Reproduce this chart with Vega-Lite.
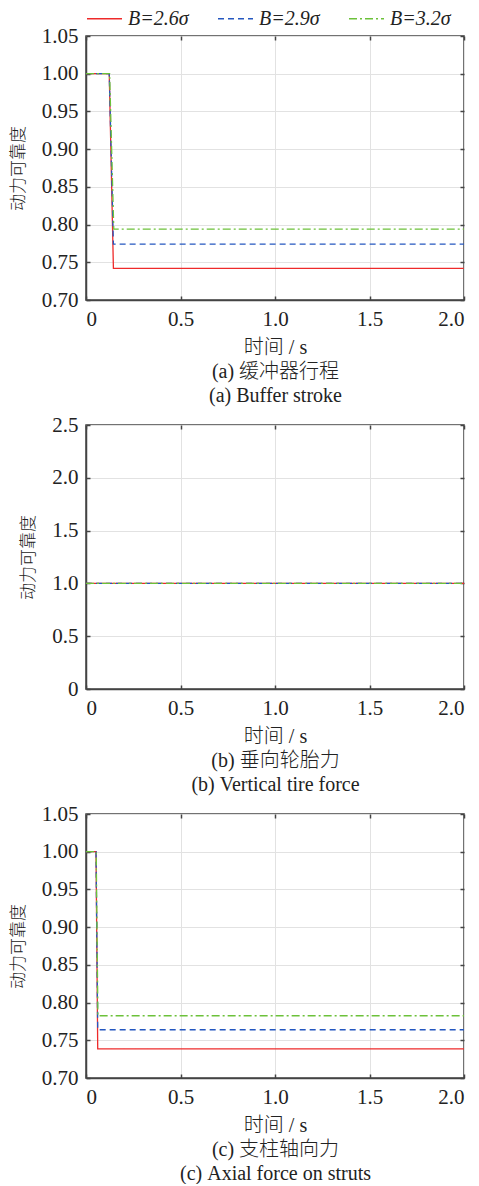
{
  "$schema": "https://vega.github.io/schema/vega-lite/v6.json",
  "padding": {"left": 8, "top": 0, "right": 12, "bottom": 0},
  "data": {"values": [
    {"p": "a", "s": "B=2.6σ", "t": 0, "r": 1},
    {"p": "a", "s": "B=2.6σ", "t": 0.123, "r": 1},
    {"p": "a", "s": "B=2.6σ", "t": 0.145, "r": 0.742},
    {"p": "a", "s": "B=2.6σ", "t": 2, "r": 0.742},
    {"p": "a", "s": "B=2.9σ", "t": 0, "r": 1},
    {"p": "a", "s": "B=2.9σ", "t": 0.123, "r": 1},
    {"p": "a", "s": "B=2.9σ", "t": 0.145, "r": 0.774},
    {"p": "a", "s": "B=2.9σ", "t": 2, "r": 0.774},
    {"p": "a", "s": "B=3.2σ", "t": 0, "r": 1},
    {"p": "a", "s": "B=3.2σ", "t": 0.125, "r": 1},
    {"p": "a", "s": "B=3.2σ", "t": 0.147, "r": 0.794},
    {"p": "a", "s": "B=3.2σ", "t": 2, "r": 0.794},
    {"p": "b", "s": "B=2.6σ", "t": 0, "r": 1},
    {"p": "b", "s": "B=2.6σ", "t": 2, "r": 1},
    {"p": "b", "s": "B=2.9σ", "t": 0, "r": 1},
    {"p": "b", "s": "B=2.9σ", "t": 2, "r": 1},
    {"p": "b", "s": "B=3.2σ", "t": 0, "r": 1},
    {"p": "b", "s": "B=3.2σ", "t": 2, "r": 1},
    {"p": "c", "s": "B=2.6σ", "t": 0, "r": 1},
    {"p": "c", "s": "B=2.6σ", "t": 0.053, "r": 1},
    {"p": "c", "s": "B=2.6σ", "t": 0.062, "r": 0.7385},
    {"p": "c", "s": "B=2.6σ", "t": 2, "r": 0.7385},
    {"p": "c", "s": "B=2.9σ", "t": 0, "r": 1},
    {"p": "c", "s": "B=2.9σ", "t": 0.053, "r": 1},
    {"p": "c", "s": "B=2.9σ", "t": 0.062, "r": 0.764},
    {"p": "c", "s": "B=2.9σ", "t": 2, "r": 0.764},
    {"p": "c", "s": "B=3.2σ", "t": 0, "r": 1},
    {"p": "c", "s": "B=3.2σ", "t": 0.054, "r": 1},
    {"p": "c", "s": "B=3.2σ", "t": 0.063, "r": 0.7825},
    {"p": "c", "s": "B=3.2σ", "t": 2, "r": 0.7825}
  ]},
  "spacing": 125,
  "bounds": "flush",
  "resolve": {"scale": {"x": "independent", "y": "independent", "color": "shared", "strokeDash": "shared"}},
  "vconcat": [
    {
      "width": 378, "height": 264,
      "transform": [{"filter": "datum.p == 'a'"}],
      "layer": [
        {
          "mark": {"type": "line", "strokeWidth": 1.3, "clip": true},
          "encoding": {
            "x": {"field": "t", "type": "quantitative", "scale": {"domain": [0, 2]},
                  "axis": {"values": [0, 0.5, 1, 1.5, 2], "labelExpr": "datum.value == 0 ? '0' : format(datum.value, '.1f')",
                           "title": ["时间 / s", "(a) 缓冲器行程", "(a) Buffer stroke"]}},
            "y": {"field": "r", "type": "quantitative", "scale": {"domain": [0.7, 1.05], "nice": false, "zero": false},
                  "axis": {"values": [0.7, 0.75, 0.8, 0.85, 0.9, 0.95, 1.0, 1.05], "format": ".2f", "title": "动力可靠度"}},
            "color": {"field": "s", "type": "nominal", "scale": {"domain": ["B=2.6σ", "B=2.9σ", "B=3.2σ"], "range": ["#ee2a2a", "#2457c0", "#6cc13a"]}, "legend": {"title": null}},
            "strokeDash": {"field": "s", "type": "nominal", "scale": {"domain": ["B=2.6σ", "B=2.9σ", "B=3.2σ"], "range": [[1, 0], [6, 4], [8, 3, 2, 3]]}, "legend": {"title": null}}
          }
        },
        {
          "mark": {"type": "line", "opacity": 0},
          "encoding": {
            "x": {"field": "t", "type": "quantitative", "axis": {"orient": "top", "values": [0, 0.5, 1, 1.5, 2], "labels": false, "domain": false, "grid": false, "title": null}},
            "y": {"field": "r", "type": "quantitative", "axis": {"orient": "right", "values": [0.7, 0.75, 0.8, 0.85, 0.9, 0.95, 1.0, 1.05], "labels": false, "domain": false, "grid": false, "title": null}}
          }
        }
      ],
      "resolve": {"axis": {"x": "independent", "y": "independent"}}
    },
    {
      "width": 378, "height": 264,
      "transform": [{"filter": "datum.p == 'b'"}],
      "layer": [
        {
          "mark": {"type": "line", "strokeWidth": 1.3, "clip": true},
          "encoding": {
            "x": {"field": "t", "type": "quantitative", "scale": {"domain": [0, 2]},
                  "axis": {"values": [0, 0.5, 1, 1.5, 2], "labelExpr": "datum.value == 0 ? '0' : format(datum.value, '.1f')",
                           "title": ["时间 / s", "(b) 垂向轮胎力", "(b) Vertical tire force"]}},
            "y": {"field": "r", "type": "quantitative", "scale": {"domain": [0, 2.5], "nice": false},
                  "axis": {"values": [0, 0.5, 1, 1.5, 2, 2.5], "labelExpr": "datum.value == 0 ? '0' : format(datum.value, '.1f')", "title": "动力可靠度"}},
            "color": {"field": "s", "type": "nominal", "legend": {"title": null}},
            "strokeDash": {"field": "s", "type": "nominal", "legend": {"title": null}}
          }
        },
        {
          "mark": {"type": "line", "opacity": 0},
          "encoding": {
            "x": {"field": "t", "type": "quantitative", "axis": {"orient": "top", "values": [0, 0.5, 1, 1.5, 2], "labels": false, "domain": false, "grid": false, "title": null}},
            "y": {"field": "r", "type": "quantitative", "axis": {"orient": "right", "values": [0, 0.5, 1, 1.5, 2, 2.5], "labels": false, "domain": false, "grid": false, "title": null}}
          }
        }
      ],
      "resolve": {"axis": {"x": "independent", "y": "independent"}}
    },
    {
      "width": 378, "height": 264,
      "transform": [{"filter": "datum.p == 'c'"}],
      "layer": [
        {
          "mark": {"type": "line", "strokeWidth": 1.3, "clip": true},
          "encoding": {
            "x": {"field": "t", "type": "quantitative", "scale": {"domain": [0, 2]},
                  "axis": {"values": [0, 0.5, 1, 1.5, 2], "labelExpr": "datum.value == 0 ? '0' : format(datum.value, '.1f')",
                           "title": ["时间 / s", "(c) 支柱轴向力", "(c) Axial force on struts"]}},
            "y": {"field": "r", "type": "quantitative", "scale": {"domain": [0.7, 1.05], "nice": false, "zero": false},
                  "axis": {"values": [0.7, 0.75, 0.8, 0.85, 0.9, 0.95, 1.0, 1.05], "format": ".2f", "title": "动力可靠度"}},
            "color": {"field": "s", "type": "nominal", "legend": {"title": null}},
            "strokeDash": {"field": "s", "type": "nominal", "legend": {"title": null}}
          }
        },
        {
          "mark": {"type": "line", "opacity": 0},
          "encoding": {
            "x": {"field": "t", "type": "quantitative", "axis": {"orient": "top", "values": [0, 0.5, 1, 1.5, 2], "labels": false, "domain": false, "grid": false, "title": null}},
            "y": {"field": "r", "type": "quantitative", "axis": {"orient": "right", "values": [0.7, 0.75, 0.8, 0.85, 0.9, 0.95, 1.0, 1.05], "labels": false, "domain": false, "grid": false, "title": null}}
          }
        }
      ],
      "resolve": {"axis": {"x": "independent", "y": "independent"}}
    }
  ],
  "config": {
    "font": "Liberation Serif, Noto Sans CJK SC",
    "view": {"stroke": "#444", "strokeWidth": 1.5},
    "style": {
      "guide-label": {"font": "Liberation Serif, Noto Sans CJK SC", "fontSize": 21, "fill": "#222"},
      "guide-title": {"font": "Liberation Serif, Noto Sans CJK SC", "fontSize": 20, "fill": "#222"}
    },
    "axis": {
      "domainColor": "#444", "domainWidth": 1.5,
      "tickColor": "#444", "tickWidth": 1.5, "tickSize": -4,
      "gridColor": "#e2e2e2", "gridWidth": 1,
      "labelFont": "Liberation Serif, Noto Sans CJK SC", "labelFontSize": 21, "labelColor": "#222", "labelPadding": 12,
      "titleFont": "Liberation Serif, Noto Sans CJK SC", "titleFontSize": 20, "titleFontWeight": 300, "titleColor": "#222",
      "titleLineHeight": 24
    },
    "axisX": {"titlePadding": 8},
    "axisY": {"titlePadding": 14, "titleFontSize": 17},
    "legend": {
      "orient": "top", "direction": "horizontal", "padding": 0, "offset": -5,
      "labelFont": "Liberation Serif, Noto Sans CJK SC", "labelFontSize": 20, "labelFontStyle": "italic", "labelColor": "#222",
      "symbolType": "stroke", "symbolSize": 1225, "symbolStrokeWidth": 1.5,
      "columnPadding": 26, "labelOffset": 5
    }
  }
}
